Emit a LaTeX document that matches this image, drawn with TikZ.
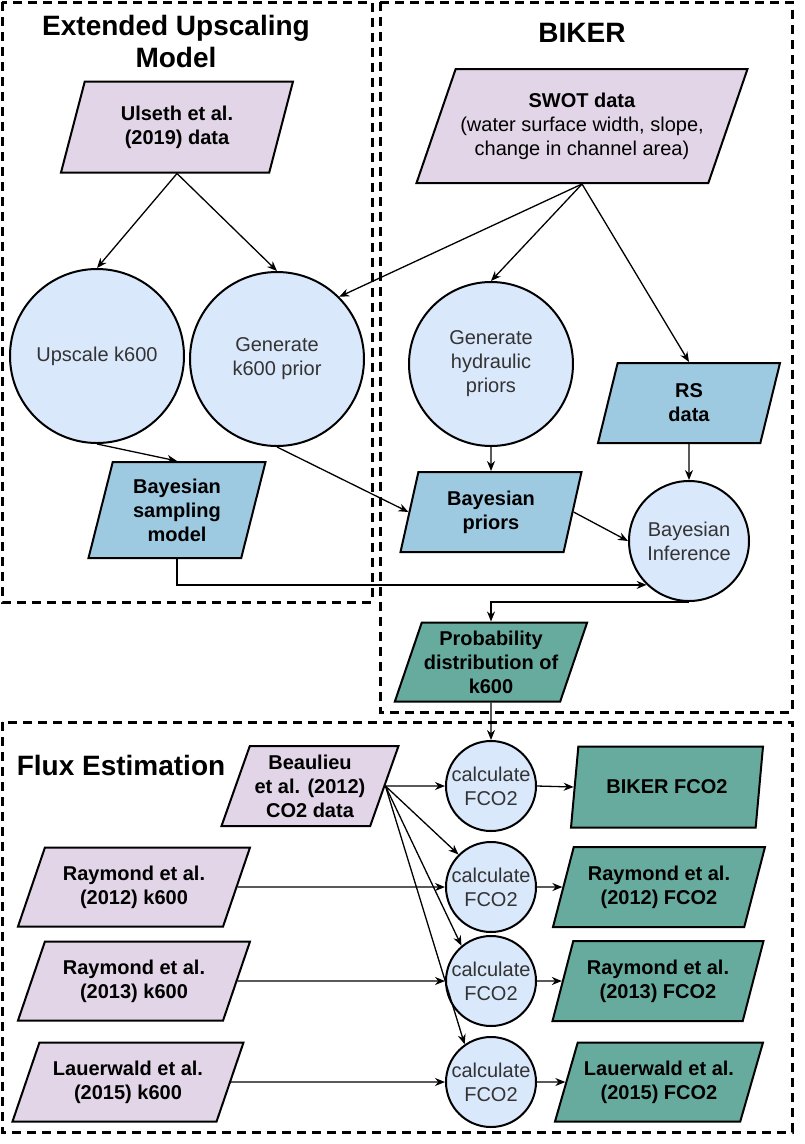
\documentclass[tikz,border=0pt]{standalone}
\usepackage{fontspec}
\setmainfont{Liberation Sans}
\usepackage{xcolor}
\usepackage{tikz}
\usetikzlibrary{%
  shapes.geometric,
  arrows.meta,
  positioning,
  calc}
\definecolor{datafill}{HTML}{E1D5E7}
\definecolor{procfill}{HTML}{DAE8FC}
\definecolor{modelfill}{HTML}{9ECAE1}
\definecolor{resultfill}{HTML}{67AB9F}
\tikzset{
  %% Input data (parallelograms)
  databox/.style={
    trapezium, trapezium stretches body,
    trapezium left angle=#1, trapezium right angle=180-#1,
    draw=black, line width=2pt, fill=datafill,
    align=center, inner sep=2pt,
    font=\fontsize{20}{24}\selectfont\bfseries},
  databox/.default=65,
  %% Model / prior boxes
  modelbox/.style={databox=#1, fill=modelfill},
  modelbox/.default=65,
  %% Result boxes
  resultbox/.style={databox=#1, fill=resultfill},
  resultbox/.default=65,
  %% Process circles
  procnode/.style={
    circle, draw=black, line width=2pt, fill=procfill,
    align=center, inner sep=1pt, text=black!80,
    font=\fontsize{20}{24}\selectfont},
  calcnode/.style={
    procnode, inner sep=0pt, minimum size=90pt},
  %% Group frames and titles
  groupframe/.style={
    draw=black, line width=3pt, dash pattern=on 9pt off 6pt},
  grouptitle/.style={
    align=center, inner sep=0pt,
    font=\fontsize{28}{32}\selectfont\bfseries},
  %% Arrows
  arrow/.style={-{Stealth[length=10pt,width=8pt]}, line width=1.3pt, black},
}

\begin{document}
\begin{tikzpicture}[x=1pt, y=-1pt]
  \useasboundingbox (0,0) rectangle (805,1144);

  %% Group frames
  \draw[groupframe] (2,2) rectangle (372,602);
  \draw[groupframe] (380,2) rectangle (792,712);
  \draw[groupframe] (2,722) rectangle (792,1132);

  \node[grouptitle, anchor=north] (upstitle) at (176,15)
        {Extended Upscaling\\Model};
  \node[grouptitle, anchor=base] (bikertitle) at (582,42) {BIKER};
  \node[grouptitle, anchor=base] (fluxtitle) at (121,775) {Flux Estimation};

  %% Extended upscaling model
  \node[databox=63, minimum width=232, minimum height=91] (ulseth)
        at (177,127) {Ulseth et al.\\(2019) data};
  \node[procnode, minimum size=174] (upscale) at (97,356) {Upscale k600};
  \node[procnode, minimum size=174] (genprior) at (277,359)
        {Generate\\k600 prior};
  \node[modelbox=70, minimum width=177, minimum height=96] (bsample)
        at (177,510) {Bayesian\\sampling\\model};

  %% BIKER
  \node[databox=61, minimum width=331, minimum height=114,
        font=\fontsize{20}{24}\selectfont] (swot) at (582,126)
        {\textbf{SWOT data}\\(water surface width, slope,\\change in channel area)};
  \node[procnode, minimum size=164] (genhyd) at (491,364)
        {Generate\\hydraulic\\priors};
  \node[modelbox=65, minimum width=182, minimum height=80] (rsdata)
        at (689,403) {RS\\data};
  \node[modelbox=69, minimum width=181, minimum height=80] (bpriors)
        at (491,512) {Bayesian\\priors};
  \node[procnode, minimum size=120] (infer) at (689,541)
        {Bayesian\\Inference};
  \node[resultbox=68, minimum width=181, minimum height=79] (probk)
        at (491,662) {Probability\\distribution of\\k600};

  %% Flux estimation inputs
  \node[databox=67, minimum width=177, minimum height=80] (beau)
        at (310,786) {Beaulieu\\et al. (2012)\\CO2 data};
  \node[databox=60, minimum width=232, minimum height=79] (ray12)
        at (134,887) {Raymond et al.\\(2012) k600};
  \node[databox=60, minimum width=232, minimum height=79] (ray13)
        at (134,981) {Raymond et al.\\(2013) k600};
  \node[databox=60, minimum width=231, minimum height=79] (laue)
        at (128,1082) {Lauerwald et al.\\(2015) k600};

  %% FCO2 calculations
  \node[calcnode] (calcA) at (491,786) {calculate\\FCO2};
  \node[calcnode] (calcB) at (491,887) {calculate\\FCO2};
  \node[calcnode] (calcC) at (491,981) {calculate\\FCO2};
  \node[calcnode] (calcD) at (491,1082) {calculate\\FCO2};

  %% FCO2 results
  \node[resultbox=68, minimum width=192, minimum height=81] (bikerf)
        at (667,787) {BIKER FCO2};
  \node[resultbox=66, minimum width=212, minimum height=80] (ray12f)
        at (659,887) {Raymond et al.\\(2012) FCO2};
  \node[resultbox=66, minimum width=211, minimum height=80] (ray13f)
        at (658,981) {Raymond et al.\\(2013) FCO2};
  \node[resultbox=64, minimum width=208, minimum height=79] (lauef)
        at (659,1082) {Lauerwald et al.\\(2015) FCO2};

  %% Connectors
  \draw[arrow] (ulseth.south) -- (upscale.north);
  \draw[arrow] (ulseth.south) -- (genprior.north);
  \draw[arrow] (swot.south) -- (genprior.45);
  \draw[arrow] (swot.south) -- (genhyd.north);
  \draw[arrow] (swot.south) -- (rsdata.north);
  \draw[arrow] (upscale.south) -- (bsample.north);
  \draw[arrow] (genprior.south) -- (bpriors.west);
  \draw[arrow] (genhyd.south) -- (bpriors.north);
  \draw[arrow] (rsdata.south) -- (infer.north);
  \draw[arrow] (bpriors.east) -- (infer.west);
  \draw[arrow] (bsample.south) |- (infer.226);
  \draw[arrow] (infer.south) -| (probk.north);
  \draw[arrow] (probk.south) -- (calcA.north);

  \draw[arrow] (beau.east) -- (calcA.west);
  \draw[arrow] (beau.east) -- (calcB.135);
  \draw[arrow] (beau.east) -- (calcC.130);
  \draw[arrow] (beau.east) -- (calcD.125);
  \draw[arrow] (ray12.east) -- (calcB.west);
  \draw[arrow] (ray13.east) -- (calcC.west);
  \draw[arrow] (laue.east) -- (calcD.west);

  \draw[arrow] (calcA.east) -- (bikerf.west);
  \draw[arrow] (calcB.east) -- (ray12f.west);
  \draw[arrow] (calcC.east) -- (ray13f.west);
  \draw[arrow] (calcD.east) -- (lauef.west);

\end{tikzpicture}
\end{document}
